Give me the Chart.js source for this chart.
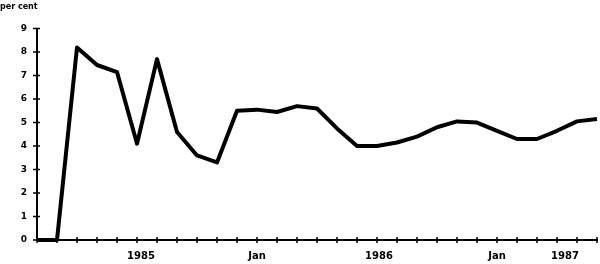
<!DOCTYPE html>
<html>
<head>
<meta charset="utf-8">
<script src="https://cdn.jsdelivr.net/npm/chart.js@4"></script>
<style>
    html, body { margin: 0; padding: 0; background: #fff; }
    #wrap { width: 600px; height: 264px; }
</style>
</head>
<body>
<div id="wrap"><canvas id="rateChart"></canvas></div>
<script>
// monthly points, one per tick on the x axis
const months = [0, 1, 2, 3, 4, 5, 6, 7, 8, 9, 10, 11, 12, 13, 14, 15, 16, 17, 18, 19, 20, 21, 22, 23, 24, 25, 26, 27, 28];
const rate = [0, 0, 8.2, 7.45, 7.15, 4.1, 7.7, 4.6, 3.6, 3.3, 5.5, 5.55, 5.45, 5.7, 5.6, 4.75, 4.0, 4.0, 4.15, 4.4, 4.8, 5.05, 5.0, 4.65, 4.3, 4.3, 4.65, 5.05, 5.15];

// labels under the axis and where they sit (in month units)
const xLabelText = ['1985', 'Jan', '1986', 'Jan', '1987'];
const xLabelAt = [5.2, 11, 17.1, 23, 26.4];

const yTicks = [0, 1, 2, 3, 4, 5, 6, 7, 8, 9];

// short marks crossing both axes, like the printed original
const crossTicks = {
    id: 'crossTicks',
    afterDatasetsDraw: function(chart) {
        const c = chart.ctx;
        const xs = chart.scales.x;
        const ys = chart.scales.y;
        c.save();
        c.strokeStyle = '#000';
        c.lineWidth = 1.5;
        c.beginPath();
        xs.ticks.forEach(t => {
            const px = xs.getPixelForValue(t.value);
            c.moveTo(px, ys.bottom - 3);
            c.lineTo(px, ys.bottom + 3);
        });
        ys.ticks.forEach(t => {
            const py = ys.getPixelForValue(t.value);
            c.moveTo(xs.left - 4, py);
            c.lineTo(xs.left + 3, py);
        });
        c.stroke();
        c.restore();
    }
};

const ctx = document.getElementById('rateChart').getContext('2d');
const chart = new Chart(ctx, {
    type: 'line',
    data: {
        datasets: [{
            data: months.map((m, i) => ({ x: m, y: rate[i] })),
            borderColor: '#000',
            borderWidth: 4,
            borderJoinStyle: 'round',
            pointRadius: 0,
            tension: 0,
            fill: false,
            clip: false
        }]
    },
    options: {
        responsive: true,
        maintainAspectRatio: false,
        animation: false,
        layout: {
            padding: { top: 0, right: 1, bottom: 0, left: 0 }
        },
        plugins: {
            legend: { display: false },
            tooltip: { enabled: false },
            title: {
                display: true,
                text: 'per cent',
                align: 'start',
                color: '#000',
                font: { family: 'DejaVu Sans', size: 8, weight: 'bold' },
                padding: { top: 2, bottom: 17 }
            }
        },
        scales: {
            x: {
                type: 'linear',
                min: 0,
                max: 28,
                afterBuildTicks: function(scale) {
                    scale.ticks = months.map(v => ({ value: v }));
                },
                afterFit: function(scale) {
                    scale.height = 3;
                },
                ticks: {
                    callback: () => ''
                },
                grid: {
                    display: false
                },
                border: { color: '#000', width: 2 }
            },
            xl: {
                type: 'linear',
                position: 'bottom',
                min: 0,
                max: 28,
                afterBuildTicks: function(scale) {
                    scale.ticks = xLabelAt.map(v => ({ value: v }));
                },
                afterFit: function(scale) {
                    scale.height = 21;
                },
                ticks: {
                    color: '#000',
                    font: { family: 'DejaVu Sans', size: 10, weight: 'bold' },
                    padding: 7,
                    maxRotation: 0,
                    autoSkip: false,
                    callback: function(value, index) {
                        return xLabelText[index];
                    }
                },
                grid: { display: false, drawTicks: false },
                border: { display: false }
            },
            y: {
                min: 0,
                max: 9,
                afterBuildTicks: function(scale) {
                    scale.ticks = yTicks.map(v => ({ value: v }));
                },
                afterFit: function(scale) {
                    scale.width = 37;
                },
                ticks: {
                    color: '#000',
                    font: { family: 'DejaVu Sans', size: 9, weight: 'bold' },
                    padding: 10
                },
                grid: {
                    display: false,
                    drawTicks: false,
                    tickLength: 4
                },
                border: { color: '#000', width: 2 }
            }
        }
    },
    plugins: [crossTicks]
});
</script>
</body>
</html>
